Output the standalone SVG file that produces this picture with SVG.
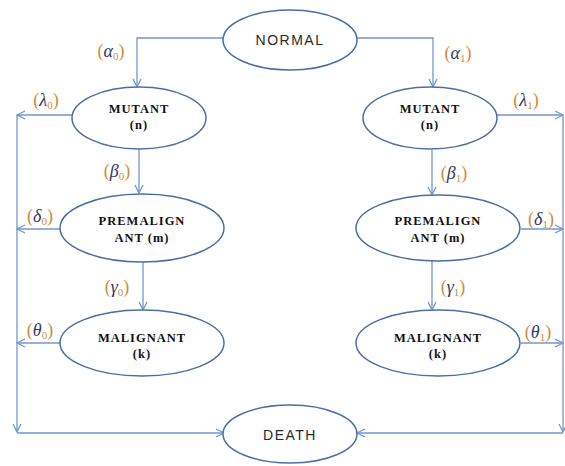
<svg xmlns="http://www.w3.org/2000/svg" width="565" height="466" viewBox="0 0 565 466">
<style>
.node ellipse{fill:#fff;stroke:#4a6fa5;stroke-width:1.5}
.sans{font-family:"Liberation Sans",Arial,sans-serif;font-size:14px;fill:#2a2a2a;text-anchor:middle;letter-spacing:1.5px}
.ser{font-family:"Liberation Serif","Times New Roman",serif;font-size:12.5px;font-weight:bold;fill:#111;text-anchor:middle;letter-spacing:1px}
.conn path{fill:none;stroke:#7397cb;stroke-width:1.3;marker-end:url(#arr)}
.lbl{font-family:"Liberation Serif","Times New Roman",serif;font-size:18px;text-anchor:middle}
.p{fill:#cf8a3e}
.g{fill:#2f3a66;font-style:italic}
.s{fill:#cf8a3e;font-size:11px}
</style>
<defs>
<marker id="arr" viewBox="0 0 10 10" refX="9" refY="5" markerWidth="10" markerHeight="10" markerUnits="userSpaceOnUse" orient="auto">
<path d="M1,1 L9,5 L1,9" fill="none" stroke="#7397cb" stroke-width="1.3"/>
</marker>
</defs>
<rect width="565" height="466" fill="#fff"/>
<g class="conn">
<path d="M224,38 H137 V87"/>
<path d="M357,38 H433 V87"/>
<path d="M73,115 H17"/>
<path d="M60,229 H17"/>
<path d="M60,343 H17"/>
<path d="M17,115 V432"/>
<path d="M17,433 H224"/>
<path d="M139,149 V193"/>
<path d="M143,262 V310"/>
<path d="M497,115 H563"/>
<path d="M521,229 H563"/>
<path d="M521,343 H563"/>
<path d="M563,115 V432"/>
<path d="M563,433 H357"/>
<path d="M432,150 V195"/>
<path d="M432,260 V310"/>
</g>
<g id="normal" class="node"><ellipse cx="290" cy="40" rx="67" ry="30"/><text class="sans" x="290" y="45">NORMAL</text></g>
<g id="mutant0" class="node"><ellipse cx="139" cy="118" rx="67" ry="31"/><text class="ser" x="139" y="113">MUTANT</text><text class="ser" x="139" y="129">(n)</text></g>
<g id="mutant1" class="node"><ellipse cx="430" cy="118" rx="67" ry="31"/><text class="ser" x="430" y="113">MUTANT</text><text class="ser" x="430" y="129">(n)</text></g>
<g id="premalign0" class="node"><ellipse cx="142" cy="228" rx="82" ry="34"/><text class="ser" x="142" y="225">PREMALIGN</text><text class="ser" x="142" y="242">ANT (m)</text></g>
<g id="premalign1" class="node"><ellipse cx="438" cy="228" rx="82" ry="33"/><text class="ser" x="438" y="225">PREMALIGN</text><text class="ser" x="438" y="242">ANT (m)</text></g>
<g id="malignant0" class="node"><ellipse cx="142" cy="343" rx="82" ry="33"/><text class="ser" x="142" y="342">MALIGNANT</text><text class="ser" x="142" y="358">(k)</text></g>
<g id="malignant1" class="node"><ellipse cx="438" cy="343" rx="82" ry="33"/><text class="ser" x="438" y="342">MALIGNANT</text><text class="ser" x="438" y="358">(k)</text></g>
<g id="death" class="node"><ellipse cx="290" cy="434" rx="67" ry="29"/><text class="sans" x="290" y="440">DEATH</text></g>
<g id="labels">
<text class="lbl" x="111" y="57"><tspan class="p">(</tspan><tspan class="g">α</tspan><tspan class="s" dy="3">0</tspan><tspan class="p" dy="-3">)</tspan></text>
<text class="lbl" x="458" y="59"><tspan class="p">(</tspan><tspan class="g">α</tspan><tspan class="s" dy="3">1</tspan><tspan class="p" dy="-3">)</tspan></text>
<text class="lbl" x="46" y="106"><tspan class="p">(</tspan><tspan class="g">λ</tspan><tspan class="s" dy="3">0</tspan><tspan class="p" dy="-3">)</tspan></text>
<text class="lbl" x="526" y="106"><tspan class="p">(</tspan><tspan class="g">λ</tspan><tspan class="s" dy="3">1</tspan><tspan class="p" dy="-3">)</tspan></text>
<text class="lbl" x="117" y="177"><tspan class="p">(</tspan><tspan class="g">β</tspan><tspan class="s" dy="3">0</tspan><tspan class="p" dy="-3">)</tspan></text>
<text class="lbl" x="454" y="179"><tspan class="p">(</tspan><tspan class="g">β</tspan><tspan class="s" dy="3">1</tspan><tspan class="p" dy="-3">)</tspan></text>
<text class="lbl" x="40" y="222"><tspan class="p">(</tspan><tspan class="g">δ</tspan><tspan class="s" dy="3">0</tspan><tspan class="p" dy="-3">)</tspan></text>
<text class="lbl" x="541" y="225"><tspan class="p">(</tspan><tspan class="g">δ</tspan><tspan class="s" dy="3">1</tspan><tspan class="p" dy="-3">)</tspan></text>
<text class="lbl" x="117" y="293"><tspan class="p">(</tspan><tspan class="g">γ</tspan><tspan class="s" dy="3">0</tspan><tspan class="p" dy="-3">)</tspan></text>
<text class="lbl" x="453" y="293"><tspan class="p">(</tspan><tspan class="g">γ</tspan><tspan class="s" dy="3">1</tspan><tspan class="p" dy="-3">)</tspan></text>
<text class="lbl" x="40" y="336"><tspan class="p">(</tspan><tspan class="g">θ</tspan><tspan class="s" dy="3">0</tspan><tspan class="p" dy="-3">)</tspan></text>
<text class="lbl" x="538" y="338"><tspan class="p">(</tspan><tspan class="g">θ</tspan><tspan class="s" dy="3">1</tspan><tspan class="p" dy="-3">)</tspan></text>
</g>
</svg>
